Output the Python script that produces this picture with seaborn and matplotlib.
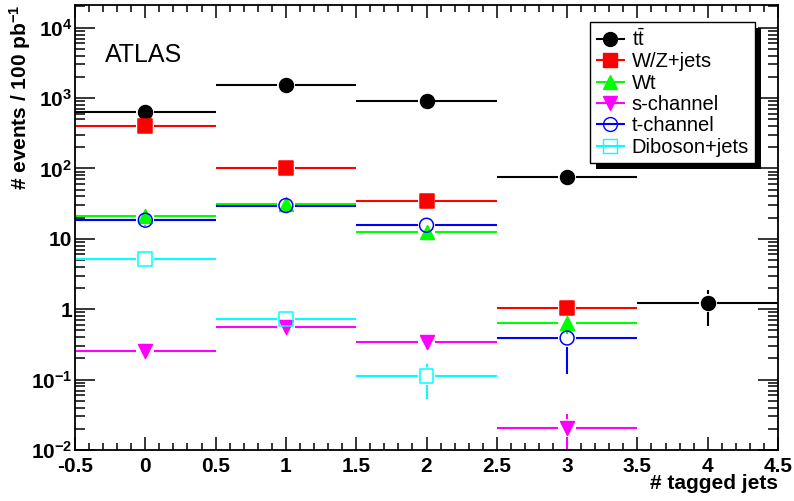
import numpy as np
import matplotlib
matplotlib.use("Agg")
import matplotlib.pyplot as plt
import seaborn as sns
from matplotlib.lines import Line2D
from matplotlib.patches import Rectangle
from matplotlib.transforms import IdentityTransform
from matplotlib.ticker import MultipleLocator, LogLocator, NullFormatter, FuncFormatter

# Données (# events / 100 pb^-1 par nombre de jets tagués)
n_tags = np.array([0, 1, 2, 3, 4])
ttbar = np.array([640, 1540, 920, 76, 1.22])
ttbar_err = np.array([15, 25, 20, 4, 0.65])
wz = np.array([406, 103, 34.7, 1.05, np.nan])
wz_err = np.array([10, 5, 2, 0.25, np.nan])
wt = np.array([21.0, 31.7, 12.5, 0.64, np.nan])
wt_err = np.array([6, 3, 1.5, 0.2, np.nan])
schan = np.array([0.259, 0.556, 0.344, 0.0205, np.nan])
schan_err = np.array([0.02, 0.05, 0.03, 0.0115, np.nan])
tchan = np.array([18.4, 29.7, 15.6, 0.39, np.nan])
tchan_err = np.array([1.5, 2, 1.5, 0.27, np.nan])
diboson = np.array([5.13, 0.716, 0.111, np.nan, np.nan])
diboson_err = np.array([0.3, 0.08, 0.058, np.nan, np.nan])

labels = [r"$\mathrm{t\bar{t}}$", "W/Z+jets", "Wt", "s-channel", "t-channel", "Diboson+jets"]
ytick_vals = [1e-2, 1e-1, 1, 10, 1e2, 1e3, 1e4]
ytick_labels = [r"$\mathbf{10^{-2}}$", r"$\mathbf{10^{-1}}$", "1", "10",
                r"$\mathbf{10^{2}}$", r"$\mathbf{10^{3}}$", r"$\mathbf{10^{4}}$"]

series = [ttbar, wz, wt, schan, tchan, diboson]
errors = [ttbar_err, wz_err, wt_err, schan_err, tchan_err, diboson_err]
colors = ["black", "#ff0000", "#00ff00", "#ff00ff", "#0000ff", "#00ffff"]
markers = ["o", "s", "^", "v", "o", "s"]
filled = [True, True, True, True, False, False]

# Style
sns.set_theme(style="ticks", rc={"axes.edgecolor": "black", "text.color": "black",
                                 "xtick.color": "black", "ytick.color": "black",
                                 "axes.labelcolor": "black", "lines.solid_capstyle": "butt"})
plt.rcParams["font.family"] = ["Liberation Sans", "DejaVu Sans"]
plt.rcParams["mathtext.fontset"] = "custom"
plt.rcParams["mathtext.rm"] = "Liberation Sans"
plt.rcParams["mathtext.it"] = "Liberation Sans:italic"
plt.rcParams["mathtext.bf"] = "Liberation Sans:bold"

ymin, ymax = 0.01, 2.1e4
gap_x = 0.064   # demi-trou autour du marqueur (unités x)
gap_y = 0.128   # demi-trou autour du marqueur (décades)
lw = 1.5

fig = plt.figure(figsize=(7.94, 5.01), dpi=100)
ax = fig.add_axes([75 / 794, 51 / 501, 703 / 794, 445 / 501])
ax.set_yscale("log")


def draw_bins(y, yerr, color, marker, full):
    ok = ~np.isnan(y)
    x, y, e = n_tags[ok], y[ok], yerr[ok]
    ax.hlines(y, x - 0.5, x - gap_x, color=color, lw=lw, zorder=2)
    ax.hlines(y, x + gap_x, x + 0.5, color=color, lw=lw, zorder=2)
    up = y + e
    lo = np.clip(y - e, ymin, None)
    g_up = y * 10 ** gap_y
    g_lo = y / 10 ** gap_y
    m = up > g_up
    ax.vlines(x[m], g_up[m], up[m], color=color, lw=lw, zorder=2)
    m = lo < g_lo
    ax.vlines(x[m], lo[m], g_lo[m], color=color, lw=lw, zorder=2)
    sns.scatterplot(x=x, y=y, marker=marker, s=100, color=color, edgecolor=color,
                    facecolor=color if full else "none", linewidth=1.1, ax=ax, zorder=3)


for y, e, c, m, f in zip(series, errors, colors, markers, filled):
    draw_bins(y, e, c, m, f)

ax.set_xlim(-0.5, 4.5)
ax.set_ylim(ymin, ymax)

# Axes
ax.xaxis.set_major_locator(MultipleLocator(0.5))
ax.xaxis.set_minor_locator(MultipleLocator(0.1))
ax.xaxis.set_major_formatter(FuncFormatter(lambda v, p: f"{round(v, 2) + 0:g}"))
ax.set_yticks(ytick_vals)
ax.set_yticklabels(ytick_labels)
ax.yaxis.set_minor_locator(LogLocator(base=10, subs=np.arange(2, 10), numticks=20))
ax.yaxis.set_minor_formatter(NullFormatter())
ax.tick_params(which="both", direction="in", top=True, right=True, labelsize=15, width=1.1)
ax.tick_params(axis="x", which="major", length=9.4, pad=5)
ax.tick_params(axis="x", which="minor", length=5)
ax.tick_params(axis="y", which="major", length=14.4, pad=2)
ax.tick_params(axis="y", which="minor", length=7.2)
for lab in ax.get_xticklabels() + ax.get_yticklabels():
    lab.set_fontweight("bold")
for sp in ax.spines.values():
    sp.set_linewidth(1.3)

ax.set_xlabel("# tagged jets", fontsize=15, fontweight="bold", loc="right")
ax.xaxis.set_label_coords(1.0, -0.055)
ax.set_ylabel(r"# events / 100 pb$^{\mathbf{-1}}$", fontsize=15, fontweight="bold", loc="top")
ax.yaxis.set_label_coords(-0.06, 1.0)

ax.text(0.043, 0.915, "ATLAS", transform=ax.transAxes, fontsize=18, va="top", ha="left")

# Légende
handles = [Line2D([], [], color=c, marker=m, markersize=10, lw=lw,
                  markerfacecolor=c if f else "none", markeredgecolor=c)
           for c, m, f in zip(colors, markers, filled)]
leg = ax.legend(handles, labels, loc="upper left", bbox_to_anchor=(0.733, 0.962),
                borderaxespad=0, frameon=True, fancybox=False, edgecolor="black",
                framealpha=1, fontsize=14.5, handlelength=1.4, handletextpad=0.35,
                labelspacing=0.12, borderpad=0.3)
leg.get_frame().set_linewidth(1)

fig.canvas.draw()
bb = leg.get_window_extent()
shadow = Rectangle((bb.x0 + 6, bb.y0 - 6), bb.width, bb.height, transform=IdentityTransform(),
                   facecolor="black", edgecolor="none", zorder=leg.get_zorder() - 0.1)
ax.add_artist(shadow)

fig.savefig("out.png", dpi=100)
